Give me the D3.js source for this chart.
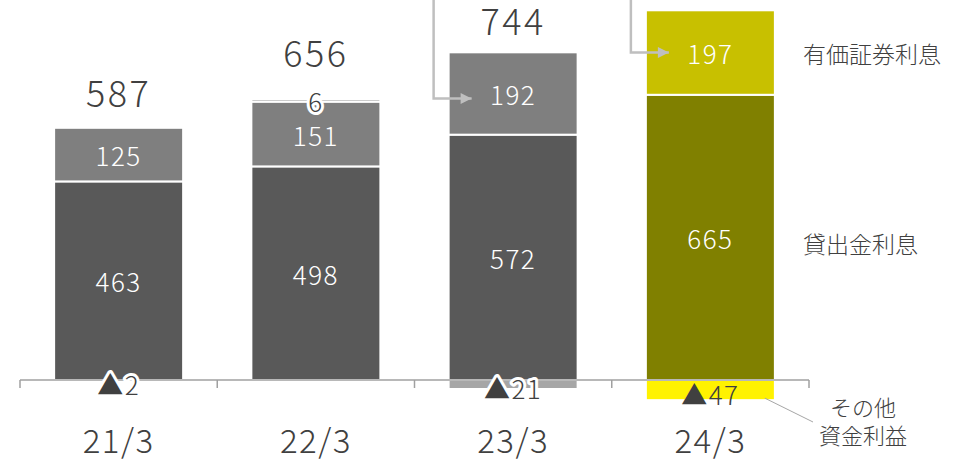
<!DOCTYPE html>
<html>
<head>
<meta charset="utf-8">
<script src="https://cdn.jsdelivr.net/npm/d3@7"></script>
<style>
  html, body { margin: 0; padding: 0; background: #fff; }
  svg { display: block; }
  text { font-family: "Noto Sans CJK JP", "Noto Sans", sans-serif; font-weight: 300; }
</style>
</head>
<body>
<svg id="chart" width="976" height="462"></svg>
<script>
// ---- data ----
const categories = ["21/3", "22/3", "23/3", "24/3"];
const loanInterest = [463, 498, 572, 665];          // 貸出金利息
const securitiesInterest = [125, 151, 192, 197];    // 有価証券利息
const otherInterest = [-2, 6, -21, -47];            // その他資金利益
const totals = [587, 656, 744, null];
const seriesNames = ["貸出金利息", "有価証券利息", "その他資金利益"];

// ---- layout ----
const svg = d3.select("#chart");
const x = d3.scaleBand().domain(categories).range([20, 809])
  .paddingInner(0.346).paddingOuter(0.173);
const y = d3.scaleLinear().domain([0, 886]).range([380, 0]);

const baseColors = ["#595959", "#7f7f7f", "#a6a6a6"];
const hiColors = ["#808000", "#c8c000", "#fff200"];
const colorFor = (ci, si) => (ci === categories.length - 1 ? hiColors : baseColors)[si];

// build stacked segments
const segments = [];
categories.forEach((c, i) => {
  const vals = [loanInterest[i], securitiesInterest[i], otherInterest[i]];
  let pos = 0, neg = 0;
  vals.forEach((v, si) => {
    let y0, y1;
    if (v >= 0) { y0 = pos; y1 = pos + v; pos = y1; }
    else { y0 = neg + v; y1 = neg; neg = y0; }
    segments.push({ cat: c, ci: i, si, v, y0, y1 });
  });
});

svg.append("g").selectAll("rect").data(segments).join("rect")
  .attr("x", d => x(d.cat))
  .attr("width", x.bandwidth())
  .attr("y", d => y(d.y1))
  .attr("height", d => y(d.y0) - y(d.y1))
  .attr("fill", d => colorFor(d.ci, d.si))
  .attr("stroke", "#fff")
  .attr("stroke-width", 2);

// axis
const axisG = svg.append("g").attr("transform", `translate(0,${y(0)})`);
axisG.append("line").attr("x1", x.range()[0]).attr("x2", x.range()[1])
  .attr("stroke", "#a0a0a0").attr("stroke-width", 1.5);
const gap = (x.step() - x.bandwidth()) / 2;
const tickXs = categories.map(c => x(c) - gap);
tickXs.push(x(categories[categories.length - 1]) + x.bandwidth() + gap);
axisG.selectAll("line.tick").data(tickXs).join("line").attr("class", "tick")
  .attr("x1", d => d).attr("x2", d => d).attr("y1", 0).attr("y2", 8)
  .attr("stroke", "#a0a0a0").attr("stroke-width", 1.5);

svg.append("g").selectAll("text").data(categories).join("text")
  .attr("x", d => x(d) + x.bandwidth() / 2)
  .attr("y", 453)
  .attr("text-anchor", "middle")
  .attr("font-size", 33)
  .attr("letter-spacing", "1.5px")
  .attr("fill", "#404040")
  .text(d => d);

// segment labels
const fmt = v => v < 0 ? "▲" + Math.abs(v) : String(v);
const lab = svg.append("g");
segments.forEach(d => {
  const cx = x(d.cat) + x.bandwidth() / 2;
  const cy = y((d.y0 + d.y1) / 2);
  const inside = d.si < 2;
  const t = lab.append("text")
    .attr("x", cx)
    .attr("y", cy + (d.v < 0 ? 3 : 0))
    .attr("text-anchor", "middle")
    .attr("dominant-baseline", "central")
    .attr("font-size", 26)
    .attr("letter-spacing", "1.5px")
    .text(fmt(d.v));
  if (inside) {
    t.attr("fill", "#fff");
  } else {
    t.attr("fill", "#404040");
    if (d.ci !== categories.length - 1) {
      t.attr("stroke", "#fff").attr("stroke-width", 6)
        .attr("stroke-linejoin", "round").attr("paint-order", "stroke");
    }
  }
});

// total labels
categories.forEach((c, i) => {
  if (totals[i] == null) return;
  const top = loanInterest[i] + securitiesInterest[i] + Math.max(0, otherInterest[i]);
  const extra = otherInterest[i] > 0 ? 11 : 0; // room for the small positive label
  svg.append("text")
    .attr("x", x(c) + x.bandwidth() / 2)
    .attr("y", Math.max(y(top) - 21 - extra, 35))
    .attr("text-anchor", "middle")
    .attr("font-size", 36)
    .attr("letter-spacing", "2.5px")
    .attr("fill", "#404040")
    .text(totals[i]);
});

// arrows
const defs = svg.append("defs");
defs.append("marker").attr("id", "ah").attr("viewBox", "0 0 10 10")
  .attr("refX", 10).attr("refY", 5).attr("markerWidth", 5).attr("markerHeight", 4.4)
  .attr("markerUnits", "strokeWidth").attr("orient", "auto")
  .append("path").attr("d", "M0,0 L10,5 L0,10 Z").attr("fill", "#bfbfbf");
[2, 3].forEach(ci => {
  const c = categories[ci];
  const yy = y(loanInterest[ci] + securitiesInterest[ci] / 2) + (ci === 2 ? 5 : 0);
  const bx = x(c);
  svg.append("path")
    .attr("d", `M${bx - 15},0 V${yy} H${bx + 23}`)
    .attr("fill", "none").attr("stroke", "#bfbfbf").attr("stroke-width", 2.5)
    .attr("marker-end", "url(#ah)");
});

// right-side series labels
const last = categories.length - 1;
const lx = x(categories[last]) + x.bandwidth() + 28;
svg.append("text").attr("x", lx)
  .attr("y", y(loanInterest[last] + securitiesInterest[last] / 2))
  .attr("dominant-baseline", "central").attr("font-size", 23).attr("fill", "#404040")
  .text(seriesNames[1]);
svg.append("text").attr("x", lx)
  .attr("y", y(loanInterest[last] / 2) + 6)
  .attr("dominant-baseline", "central").attr("font-size", 23).attr("fill", "#404040")
  .text(seriesNames[0]);

// other label with leader line
svg.append("line")
  .attr("x1", x(categories[last]) + x.bandwidth() - 10).attr("y1", y(otherInterest[last]) - 2)
  .attr("x2", 813).attr("y2", 422)
  .attr("stroke", "#a6a6a6").attr("stroke-width", 1);
svg.append("text").attr("x", 863).attr("y", 416).attr("font-size", 22)
  .attr("fill", "#404040").attr("text-anchor", "middle").text("その他");
svg.append("text").attr("x", 863).attr("y", 444).attr("font-size", 22)
  .attr("fill", "#404040").attr("text-anchor", "middle").text("資金利益");
</script>
</body>
</html>
